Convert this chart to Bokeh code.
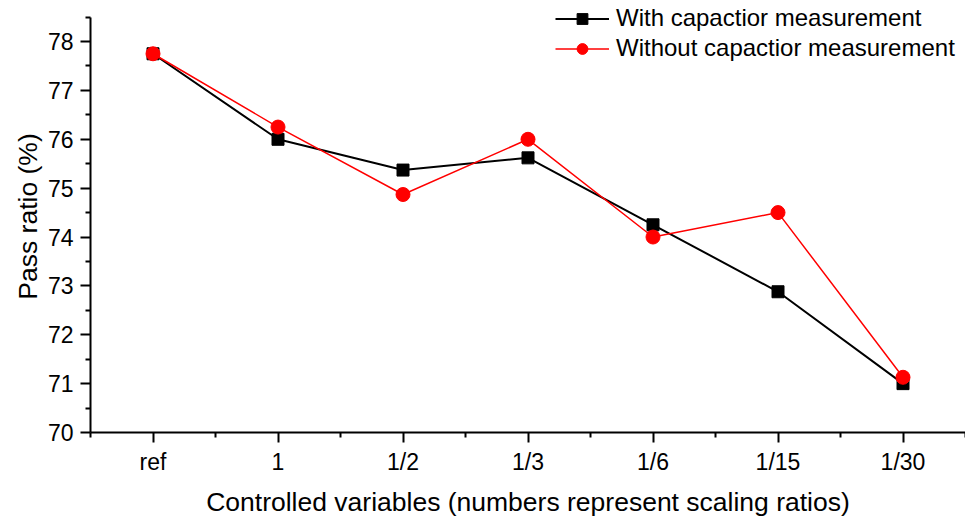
from bokeh.plotting import figure
from bokeh.models import Range1d, FixedTicker, Legend, LegendItem
from bokeh.embed import file_html
from bokeh.resources import INLINE

categories = ["ref", "1", "1/2", "1/3", "1/6", "1/15", "1/30"]
with_cap = [77.75, 76.0, 75.37, 75.62, 74.25, 72.88, 71.0]
without_cap = [77.75, 76.25, 74.87, 76.0, 74.0, 74.5, 71.13]
y_ticks = [70, 71, 72, 73, 74, 75, 76, 77, 78]

FONT = "Liberation Sans"
xs = list(range(len(categories)))

p = figure(width=965, height=519, output_backend="svg", toolbar_location=None,
           x_range=Range1d(-0.5, len(categories) - 0.5), y_range=Range1d(70, 78.84),
           min_border_left=90, min_border_right=0, min_border_top=0, min_border_bottom=86)
p.outline_line_color = None
p.xgrid.visible = False
p.ygrid.visible = False
p.background_fill_color = "white"
p.border_fill_color = "white"

r1l = p.line(xs, with_cap, line_color="black", line_width=2)
r1s = p.scatter(xs, with_cap, marker="square", size=12, fill_color="black", line_color="black")
r2l = p.line(xs, without_cap, line_color="#ff0000", line_width=1.5)
r2s = p.scatter(xs, without_cap, marker="circle", size=14, fill_color="#ff0000", line_color="#ff0000")

# axes
p.xaxis.ticker = FixedTicker(ticks=xs, minor_ticks=[i - 0.5 for i in range(len(categories) + 1)])
p.xaxis.major_label_overrides = {i: c for i, c in enumerate(categories)}
p.yaxis.ticker = FixedTicker(ticks=y_ticks, minor_ticks=[t + 0.5 for t in y_ticks])
p.yaxis.bounds = (70, 78.5)

for ax in (p.xaxis[0], p.yaxis[0]):
    ax.axis_line_width = 2
    ax.axis_line_color = "black"
    ax.major_tick_line_width = 2
    ax.minor_tick_line_width = 2
    ax.major_tick_line_color = "black"
    ax.minor_tick_line_color = "black"
    ax.major_tick_out = 10
    ax.major_tick_in = 0
    ax.minor_tick_out = 5
    ax.minor_tick_in = 0
    ax.major_label_text_font = FONT
    ax.major_label_text_font_size = "23px"
    ax.major_label_text_color = "black"
    ax.axis_label_text_font = FONT
    ax.axis_label_text_font_size = "26.5px"
    ax.axis_label_text_font_style = "normal"
    ax.axis_label_text_color = "black"

p.xaxis.axis_label = "Controlled variables (numbers represent scaling ratios)"
p.yaxis.axis_label = "Pass ratio (%)"
p.xaxis.major_label_standoff = 6
p.yaxis.major_label_standoff = 7
p.xaxis.axis_label_standoff = 9
p.yaxis.axis_label_standoff = 2

legend = Legend(items=[
    LegendItem(label="With capactior measurement", renderers=[r1l, r1s]),
    LegendItem(label="Without capactior measurement", renderers=[r2l, r2s]),
], location=(465, 370))
legend.border_line_color = None
legend.background_fill_alpha = 0
legend.padding = 0
legend.margin = 0
legend.spacing = 2
legend.glyph_width = 54
legend.glyph_height = 27
legend.label_height = 27
legend.label_standoff = 7
legend.label_text_font = FONT
legend.label_text_font_size = "24px"
legend.label_text_color = "black"
p.add_layout(legend, "center")

open("out.html", "w").write(file_html(p, INLINE))
